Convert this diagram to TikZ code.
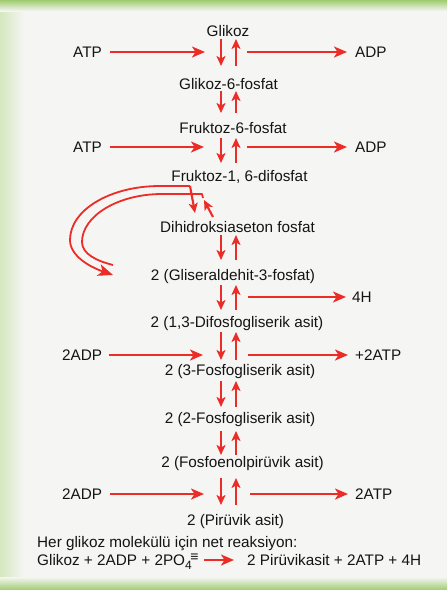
\documentclass[tikz,border=0pt]{standalone}
\usepackage{fontspec}
\setmainfont{Liberation Sans}
\usetikzlibrary{arrows.meta,calc}
\definecolor{arrred}{RGB}{236,44,38}
\definecolor{bgc}{RGB}{245,245,243}
\definecolor{grn}{RGB}{160,204,112}
\definecolor{txt}{RGB}{20,20,20}
\begin{document}
\begin{tikzpicture}[x=1pt,y=1pt,
  lbl/.style={font=\fontsize{15.3}{18}\selectfont, text=txt, inner sep=0pt, anchor=base},
  lblw/.style={lbl, anchor=base west},
  harrow/.style={draw=arrred, line width=2.1pt, -{Stealth[length=13pt,width=11pt,inset=3.5pt]}},
  varrow/.style={draw=arrred, line width=2.1pt, -{Stealth[length=10pt,width=9pt,inset=2.5pt]}},
  curvline/.style={draw=arrred, line width=1.8pt, line join=round}
  ]
\useasboundingbox (0,0) rectangle (447,-590);
% background panel
\fill[bgc] (0,0) rectangle (447,-590);
\shade[left color=grn!45!white, middle color=grn, right color=bgc] (0,0) rectangle (24,-590);
\shade[top color=grn, bottom color=bgc] (0,0) rectangle (447,-11);
\shade[top color=bgc, bottom color=grn] (0,-577) rectangle (447,-590);

% main pathway labels
\node[lbl] (glu)  at (228,-36)   {Glikoz};
\node[lbl] (g6p)  at (228.5,-89) {Glikoz-6-fosfat};
\node[lbl] (f6p)  at (233,-133)  {Fruktoz-6-fosfat};
\node[lbl] (f16)  at (239.5,-181){Fruktoz-1, 6-difosfat};
\node[lbl] (dhap) at (237.5,-232){Dihidroksiaseton fosfat};
\node[lbl] (ga3p) at (233,-280)  {2 (Gliseraldehit-3-fosfat)};
\node[lbl] (bpg)  at (237,-327)  {2 (1,3-Difosfogliserik asit)};
\node[lbl] (pgc)  at (240,-375)  {2 (3-Fosfogliserik asit)};
\node[lbl] (pgb)  at (240,-423)  {2 (2-Fosfogliserik asit)};
\node[lbl] (pep)  at (242.5,-467){2 (Fosfoenolpirüvik asit)};
\node[lbl] (pyr)  at (235.5,-525){2 (Pirüvik asit)};

% side labels
\node[lblw] (atpa) at (73,-57.5)   {ATP};
\node[lblw] (adpa) at (355,-57.5)  {ADP};
\node[lblw] (atpb) at (73,-152.5)  {ATP};
\node[lblw] (adpb) at (355,-152.5) {ADP};
\node[lblw] (hfour) at (352,-302.5){4H};
\node[lblw] (adpc) at (62,-360.5)  {2ADP};
\node[lblw] (atpc) at (355,-360.5) {+2ATP};
\node[lblw] (adpd) at (62,-499.5)  {2ADP};
\node[lblw] (atpd) at (355,-499.5) {2ATP};

% horizontal arrows
\draw[harrow] ($(atpa.base east)+(8,5.5)$) -- (205,-52);
\draw[harrow] (247,-52) -- ($(adpa.base west)+(-8,5.5)$);
\draw[harrow] ($(atpb.base east)+(8,5.5)$) -- (204,-147);
\draw[harrow] (247,-147) -- ($(adpb.base west)+(-8,5.5)$);
\draw[harrow] (248,-297) -- ($(hfour.base west)+(-6,5.5)$);
\draw[harrow] ($(adpc.base east)+(7,5.5)$) -- (203,-355);
\draw[harrow] (248,-355) -- ($(atpc.base west)+(-7,5.5)$);
\draw[harrow] ($(adpd.base east)+(8,5.5)$) -- (204,-494);
\draw[harrow] (250,-494) -- ($(atpd.base west)+(-7,5.5)$);

% reversible vertical arrow pairs
\foreach \t/\b in {39/66, 91/113, 138/163, 235/260, 285/310, 332/360, 381/407, 431/455, 478/505}{
  \draw[varrow] (221,-\t) -- (221,-\b);
  \draw[varrow] (236,-\b) -- (236,-\t);
}

% split of fructose-1,6-diphosphate
\coordinate (split) at (190,-186);
\coordinate (joint) at (202,-194);
\draw[curvline, -{Stealth[length=15pt,width=12pt,inset=4pt]}]
  (split) -- (160,-186) .. controls (110,-186) and (70,-210) .. (70,-240)
  .. controls (70,-256) and (90,-267) .. (113,-275);
\draw[varrow] (split) -- (195,-213);
\draw[curvline] (203,-198) -- (joint) -- (162,-194)
  .. controls (118,-194) and (82,-216) .. (82,-242)
  .. controls (82,-254) and (97,-261) .. (113,-265);
\draw[varrow] (213,-217) -- (204,-200);

% net reaction
\node[lblw] (net) at (37,-547) {Her glikoz molekülü için net reaksiyon:};
\node[lblw] (lhs) at (37,-565) {Glikoz + 2ADP + 2PO\raisebox{-4pt}{\fontsize{12}{12}\selectfont 4}\hspace{-1.5pt}\raisebox{4pt}{\fontsize{14}{14}\selectfont ≡}};
\node[lblw] (rhs) at (247,-565) {2 Pirüvikasit + 2ATP + 4H};
\draw[harrow] ($(lhs.base east)+(5,5)$) -- ($(rhs.base west)+(-13,5)$);
\end{tikzpicture}
\end{document}
